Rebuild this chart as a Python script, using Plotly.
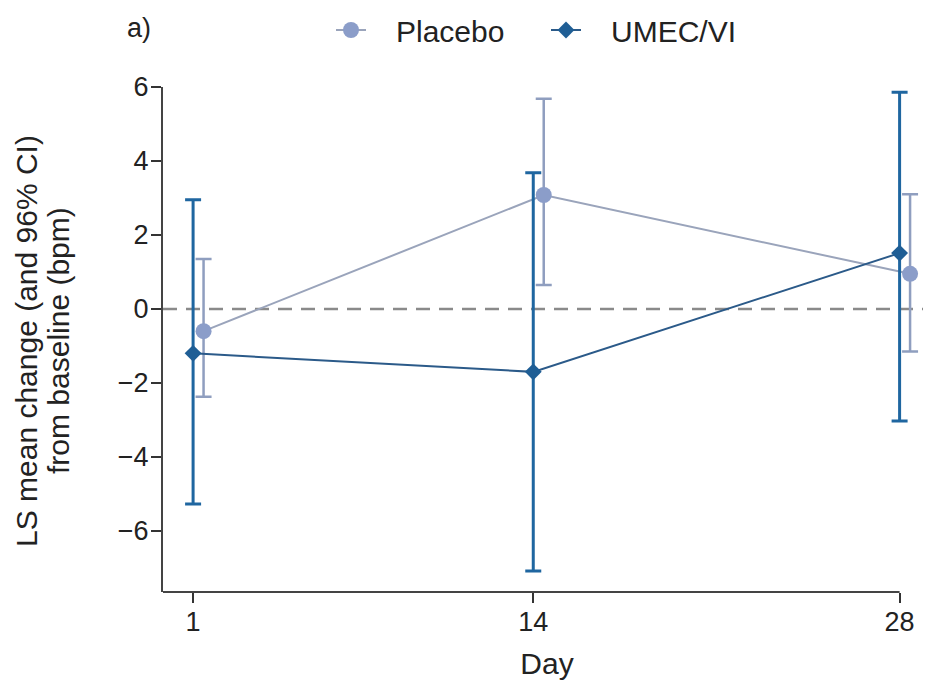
import plotly.graph_objects as go

days = [1, 14, 28]
placebo_mean = [-0.6, 3.08, 0.95]
placebo_lo = [-2.37, 0.65, -1.15]
placebo_hi = [1.35, 5.68, 3.1]
umec_mean = [-1.2, -1.7, 1.51]
umec_lo = [-5.27, -7.08, -3.03]
umec_hi = [2.95, 3.68, 5.86]
x_tick_vals = [1, 14, 28]
y_tick_vals = [-6, -4, -2, 0, 2, 4, 6]
y_tick_text = ["\u22126", "\u22124", "\u22122", "0", "2", "4", "6"]
series_names = ["Placebo", "UMEC/VI"]

placebo_offset = 0.4
X_RANGE = [-0.15, 29.2]
Y_RANGE = [-7.65, 6.0]

FONT = "Liberation Sans, Arial, sans-serif"
TXT = "#222222"
PLAC_C = "#8b9dc9"
PLAC_LINE = "#9aa4bb"
PLAC_ERR = "#8f9ebf"
UMEC_C = "#1f5e95"
UMEC_LINE = "#2b5a89"
UMEC_ERR = "#1f66a0"

# page has an 8px body margin; figure placed so plot area spans x 163..931, y 87..592
W, H = 923, 677
ML, MT = 155, 79
PB = 584  # plot bottom in figure coords
PLOT_W = W - ML
PLOT_H = PB - MT


def px_x(page_x):
    return (page_x - 8 - ML) / PLOT_W


def px_y(page_y):
    return (PB - (page_y - 8)) / PLOT_H


px = [d + placebo_offset for d in days]
GAP = "\u00a0\u00a0\u00a0"

fig = go.Figure()
fig.add_trace(go.Scatter(
    x=px, y=placebo_mean, name=GAP + series_names[0], mode="lines+markers",
    line=dict(color=PLAC_LINE, width=2),
    marker=dict(symbol="circle", size=16, color=PLAC_C),
    error_y=dict(type="data", symmetric=False,
                 array=[h - m for h, m in zip(placebo_hi, placebo_mean)],
                 arrayminus=[m - l for m, l in zip(placebo_mean, placebo_lo)],
                 color=PLAC_ERR, thickness=2.5, width=8),
    cliponaxis=False,
))
fig.add_trace(go.Scatter(
    x=days, y=umec_mean, name=GAP + series_names[1], mode="lines+markers",
    line=dict(color=UMEC_LINE, width=2),
    marker=dict(symbol="diamond", size=13, color=UMEC_C),
    error_y=dict(type="data", symmetric=False,
                 array=[h - m for h, m in zip(umec_hi, umec_mean)],
                 arrayminus=[m - l for m, l in zip(umec_mean, umec_lo)],
                 color=UMEC_ERR, thickness=3, width=8),
    cliponaxis=False,
))

# zero reference line
fig.add_shape(type="line", xref="paper", yref="y", x0=0, x1=1, y0=0, y1=0,
              line=dict(color="#8a8a8a", width=2.5, dash="14px,9px"), layer="below")
# bottom axis line ending at day 28
fig.add_shape(type="line", xref="x", yref="paper", x0=X_RANGE[0], x1=28, y0=0, y1=0,
              line=dict(color="#444444", width=2))

fig.update_layout(
    width=W, height=H,
    margin=dict(l=ML, r=0, t=MT, b=H - PB, autoexpand=False),
    paper_bgcolor="white", plot_bgcolor="white",
    font=dict(family=FONT, color=TXT, size=26),
    showlegend=True,
    legend=dict(orientation="h", x=px_x(331), xanchor="left", y=px_y(30), yanchor="middle",
                font=dict(size=30, color=TXT), tracegroupgap=0,
                entrywidth=170, entrywidthmode="pixels",
                bgcolor="rgba(0,0,0,0)"),
    xaxis=dict(range=X_RANGE, tickvals=x_tick_vals, ticks="outside", ticklen=10,
               tickwidth=2, tickcolor="#333333", showline=False, showgrid=False,
               zeroline=False, tickfont=dict(size=27, color=TXT), ticklabelstandoff=-4,
               title=dict(text="Day", font=dict(size=30, color=TXT), standoff=16)),
    yaxis=dict(range=Y_RANGE, tickvals=y_tick_vals, ticktext=y_tick_text,
               ticks="outside", ticklen=10, tickwidth=2, tickcolor="#333333",
               showline=True, linecolor="#444444", linewidth=2, showgrid=False,
               zeroline=False, tickfont=dict(size=27, color=TXT), ticklabelstandoff=-3),
    annotations=[
        dict(text="LS mean change (and 96% CI)",
             xref="paper", yref="paper", x=px_x(26), y=px_y(341),
             xanchor="center", yanchor="middle", textangle=-90, showarrow=False,
             font=dict(size=30, color=TXT)),
        dict(text="from baseline (bpm)",
             xref="paper", yref="paper", x=px_x(58), y=px_y(341),
             xanchor="center", yanchor="middle", textangle=-90, showarrow=False,
             font=dict(size=30, color=TXT)),
        dict(text="a)", xref="paper", yref="paper", x=px_x(139), y=px_y(28),
             xanchor="center", yanchor="middle", showarrow=False,
             font=dict(size=27, color=TXT)),
    ],
)

fig.write_html("out.html")
